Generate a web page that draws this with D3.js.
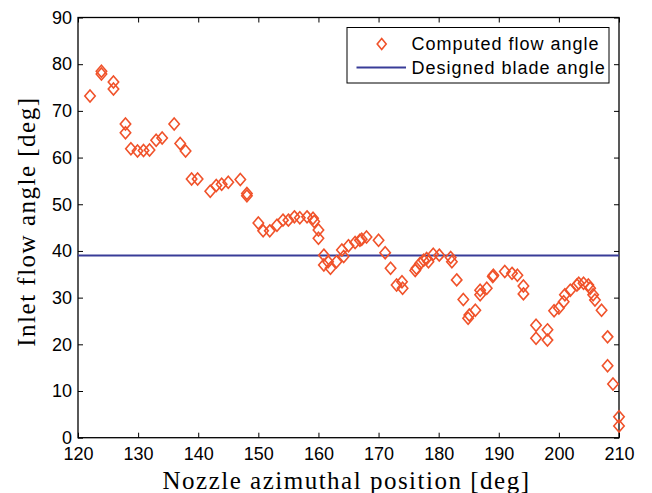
<!DOCTYPE html>
<html>
<head>
<meta charset="utf-8">
<script src="https://cdn.jsdelivr.net/npm/d3@7"></script>
<style>
  body { margin: 0; background: #fff; }
  .tick text { font-family: "Liberation Sans", Arial, sans-serif; font-size: 18px; fill: #000; }
</style>
</head>
<body>
<div class="chart"></div>
<script>
// nozzle azimuthal position [deg]
var position = [122, 123.9, 123.9, 125.9, 125.9, 127.9, 127.9, 128.8, 129.9, 130.9, 131.9, 133, 134, 136, 137, 137.9,
  138.9, 139.9, 142, 143, 143.9, 145, 147, 148.1, 148.1, 150, 150.8, 151.9, 153.1, 154.1, 155, 156, 156.9, 158.1,
  159.1, 159.3, 160, 160, 160.9, 160.9, 161.6, 162, 163, 163.9, 164.2, 165, 166.1, 166.9, 167.2, 168, 170, 171.1,
  172, 173, 173.9, 174, 176.1, 176.3, 176.9, 177.5, 178, 178.3, 179.1, 180.1, 182, 182.2, 183, 184.1, 185.1, 184.9,
  186.1, 186.9, 186.9, 188, 189, 189.1, 191, 192.2, 193.1, 194.1, 194.1, 196.2, 196.2, 198.1, 198.1, 199.2, 200,
  200.8, 201, 201.9, 203, 203.3, 204.1, 204.9, 205.2, 205.7, 206, 207.1, 208.1, 208.1, 209, 210, 210];
// computed inlet flow angle [deg]
var flowAngle = [73.2, 78.5, 77.9, 76.2, 74.7, 67.2, 65.3, 61.9, 61.4, 61.5, 61.6, 63.7, 64.2, 67.2, 63.0, 61.4,
  55.4, 55.4, 52.8, 54, 54.3, 54.7, 55.3, 52.3, 51.8, 46.0, 44.3, 44.3, 45.5, 46.6, 46.6, 47.3, 47.1, 47.3,
  47, 46.3, 44.5, 42.7, 39.1, 37, 37.7, 36.3, 37.7, 40.2, 38.8, 41.1, 41.8, 42.3, 42.5, 43, 42.3, 39.6,
  36.3, 32.7, 33.4, 32, 35.8, 36.3, 37.3, 38, 38.4, 37.7, 39.3, 39.1, 38.6, 37.7, 33.8, 29.6, 26.3, 25.6,
  27.3, 31.6, 30.6, 32, 34.5, 34.8, 35.6, 35.2, 34.8, 32.5, 30.8, 24.1, 21.3, 23.1, 20.9, 27.2, 27.8,
  29.1, 30.6, 31.6, 32.7, 33.1, 33.1, 32.7, 32, 30.6, 29.5, 27.3, 21.6, 15.4, 11.5, 4.5, 2.5];
var designAngle = 39;
var xTicks = [120, 130, 140, 150, 160, 170, 180, 190, 200, 210];
var yTicks = [0, 10, 20, 30, 40, 50, 60, 70, 80, 90];
var legendLabels = ["Computed flow angle", "Designed blade angle"];

var markerColor = "#f0522a", lineColor = "#383c98";

var W = 652, H = 493;
var margin = { top: 17.5, right: 33, bottom: 55.3, left: 78 },
    width = W - margin.left - margin.right,
    height = H - margin.top - margin.bottom;

var svg = d3.select(".chart").append("svg")
    .attr("width", W).attr("height", H)
    .append("g")
    .attr("transform", "translate(" + margin.left + "," + margin.top + ")");

var x = d3.scaleLinear().domain([120, 210]).range([0, width]);
var y = d3.scaleLinear().domain([0, 90]).range([height, 0]);

function diamond(cx, cy, hw, hh) {
    return "M" + cx + "," + (cy - hh) + "L" + (cx + hw) + "," + cy + "L" + cx + "," + (cy + hh) + "L" + (cx - hw) + "," + cy + "Z";
}

// axes, inward ticks on all four sides
svg.append("g").attr("transform", "translate(0," + height + ")")
    .call(d3.axisBottom(x).tickValues(xTicks).tickSizeInner(-5).tickSizeOuter(0).tickPadding(10));
svg.append("g")
    .call(d3.axisLeft(y).tickValues(yTicks).tickSizeInner(-5).tickSizeOuter(0).tickPadding(6));
svg.append("g")
    .call(d3.axisTop(x).tickValues(xTicks).tickSizeInner(-5).tickSizeOuter(0).tickFormat(""));
svg.append("g").attr("transform", "translate(" + width + ",0)")
    .call(d3.axisRight(y).tickValues(yTicks).tickSizeInner(-5).tickSizeOuter(0).tickFormat(""));
svg.selectAll(".domain").remove();
svg.selectAll(".tick line").attr("stroke", "#000").attr("stroke-width", 1);
svg.append("rect").attr("width", width).attr("height", height)
    .attr("fill", "none").attr("stroke", "#000").attr("stroke-width", 1.3);

// designed blade angle
svg.append("line")
    .attr("x1", x(120)).attr("x2", x(210))
    .attr("y1", y(designAngle)).attr("y2", y(designAngle))
    .attr("stroke", lineColor).attr("stroke-width", 2);

// computed flow angle
svg.append("g").selectAll("path")
    .data(position)
    .enter().append("path")
    .attr("d", function(d, i) { return diamond(x(d), y(flowAngle[i]), 5.2, 6); })
    .attr("fill", "none")
    .attr("stroke", markerColor)
    .attr("stroke-width", 1.6);

// legend
var lg = svg.append("g").attr("transform", "translate(" + (347 - margin.left) + "," + (27.5 - margin.top) + ")");
lg.append("rect").attr("width", 262).attr("height", 55.5)
    .attr("fill", "#fff").attr("stroke", "#000").attr("stroke-width", 1);
lg.append("path").attr("d", diamond(34.7, 16.5, 4.5, 5.5))
    .attr("fill", "none").attr("stroke", markerColor).attr("stroke-width", 1.6);
lg.append("line").attr("x1", 9.5).attr("x2", 59).attr("y1", 40).attr("y2", 40)
    .attr("stroke", lineColor).attr("stroke-width", 2);
lg.selectAll("text.leg").data(legendLabels).enter().append("text")
    .attr("class", "leg")
    .attr("x", 64.5)
    .attr("y", function(d, i) { return 16.5 + i * 23.5; })
    .attr("dy", "0.36em")
    .style("font-family", "'Liberation Sans', Arial, sans-serif")
    .style("font-size", "18px")
    .style("letter-spacing", "1px")
    .text(function(d) { return d; });

// axis titles
svg.append("text")
    .attr("x", width / 2 - 2).attr("y", height + 51)
    .attr("text-anchor", "middle")
    .style("font-family", "'Liberation Serif', 'Times New Roman', serif")
    .style("font-size", "25px")
    .style("letter-spacing", "1.5px")
    .text("Nozzle azimuthal position [deg]");
svg.append("text")
    .attr("transform", "translate(" + (-43) + "," + (y(45) - 6) + ") rotate(-90)")
    .attr("text-anchor", "middle")
    .style("font-family", "'Liberation Serif', 'Times New Roman', serif")
    .style("font-size", "25px")
    .style("letter-spacing", "1.5px")
    .text("Inlet flow angle [deg]");
</script>
</body>
</html>
